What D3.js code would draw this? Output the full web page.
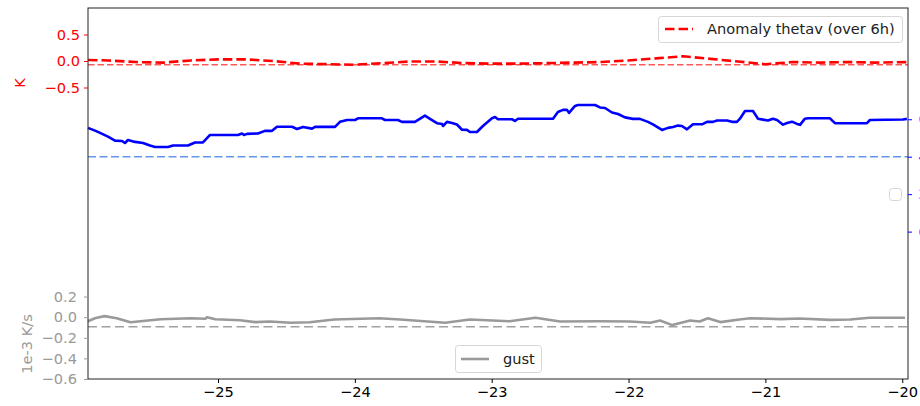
<!DOCTYPE html>
<html>
<head>
<meta charset="utf-8">
<script src="https://cdn.jsdelivr.net/npm/d3@7"></script>
<style>
    body { margin: 0; background: #fff; }
    svg { display: block; font-family: "DejaVu Sans", sans-serif; }
</style>
</head>
<body>
<svg id="chart" width="920" height="406"></svg>
<script>
// anomaly thetav (red, left axis)
var anomT = [-25.95, -25.8, -25.6, -25.4, -25.2, -25.0, -24.8, -24.6, -24.4, -24.2, -24.0, -23.8, -23.6, -23.4, -23.2, -23.0,
    -22.8, -22.6, -22.4, -22.2, -22.0, -21.8, -21.6, -21.4, -21.2, -21.0, -20.8, -20.6, -20.4, -20.2, -19.96];
var anomV = [0.02, 0.01, -0.02, -0.03, 0.01, 0.03, 0.03, 0.0, -0.05, -0.06, -0.07, -0.04, -0.01, -0.01, -0.04, -0.05,
    -0.05, -0.04, -0.03, -0.02, 0.01, 0.05, 0.09, 0.04, -0.01, -0.06, -0.02, -0.03, -0.02, -0.03, -0.02];
var anomRef = -0.07;

// blue series (right axis)
var blueT = [-25.950, -25.899, -25.862, -25.804, -25.753, -25.701, -25.680, -25.658, -25.606, -25.548, -25.497, -25.460,
    -25.365, -25.329, -25.219, -25.168, -25.110, -25.058, -24.854, -24.825, -24.810, -24.788, -24.708, -24.657, -24.605,
    -24.569, -24.459, -24.423, -24.379, -24.313, -24.291, -24.145, -24.109, -24.057, -23.999, -23.977, -23.802, -23.780,
    -23.685, -23.656, -23.561, -23.488, -23.451, -23.400, -23.363, -23.356, -23.327, -23.290, -23.254, -23.217, -23.181,
    -23.159, -23.108, -23.064, -22.998, -22.976, -22.954, -22.852, -22.830, -22.808, -22.552, -22.516, -22.479, -22.450,
    -22.435, -22.391, -22.370, -22.245, -22.209, -22.172, -22.121, -22.077, -22.026, -21.968, -21.917, -21.858, -21.822,
    -21.756, -21.712, -21.675, -21.639, -21.610, -21.573, -21.529, -21.463, -21.427, -21.383, -21.354, -21.281, -21.244,
    -21.208, -21.186, -21.149, -21.091, -21.054, -21.018, -20.981, -20.945, -20.915, -20.871, -20.842, -20.806, -20.769,
    -20.747, -20.711, -20.689, -20.528, -20.492, -20.258, -20.236, -19.995, -19.966];
var blueV = [5.54, 5.39, 5.27, 5.07, 4.86, 4.84, 4.73, 4.89, 4.79, 4.73, 4.60, 4.52,
    4.52, 4.60, 4.60, 4.76, 4.76, 5.16, 5.16, 5.24, 5.16, 5.22, 5.24, 5.38, 5.38,
    5.60, 5.60, 5.48, 5.59, 5.50, 5.59, 5.59, 5.86, 5.96, 5.96, 6.05, 6.05, 5.96,
    5.96, 5.86, 5.86, 6.19, 6.02, 5.79, 5.75, 5.64, 5.86, 5.80, 5.72, 5.44, 5.43,
    5.32, 5.32, 5.64, 6.05, 6.12, 6.00, 6.00, 5.91, 6.03, 6.03, 6.39, 6.50, 6.50,
    6.34, 6.71, 6.76, 6.76, 6.63, 6.60, 6.36, 6.28, 6.10, 6.02, 6.02, 5.86, 5.73,
    5.43, 5.54, 5.59, 5.66, 5.64, 5.46, 5.73, 5.73, 5.86, 5.86, 5.93, 5.93, 5.86,
    5.86, 6.03, 6.44, 6.44, 6.03, 5.98, 5.93, 6.03, 5.96, 5.71, 5.80, 5.87, 5.75,
    5.70, 6.03, 6.05, 6.05, 5.79, 5.79, 5.96, 5.99, 6.02];
var blueRef = 4;

// gust (gray, lower axis)
var gustT = [-25.95, -25.90, -25.83, -25.74, -25.64, -25.53, -25.42, -25.31, -25.20, -25.09, -25.08, -25.02, -24.84,
    -24.73, -24.62, -24.47, -24.33, -24.15, -23.82, -23.67, -23.34, -23.16, -22.87, -22.68, -22.50, -22.21, -21.99,
    -21.84, -21.77, -21.68, -21.55, -21.48, -21.42, -21.33, -21.19, -21.11, -20.89, -20.75, -20.53, -20.38, -20.24, -19.98];
var gustV = [-0.04, -0.01, 0.01, -0.01, -0.05, -0.035, -0.02, -0.015, -0.01, -0.015, 0.0, -0.02, -0.03,
    -0.048, -0.042, -0.054, -0.05, -0.022, -0.01, -0.022, -0.054, -0.022, -0.04, -0.006, -0.042, -0.04, -0.042,
    -0.054, -0.032, -0.077, -0.032, -0.042, -0.01, -0.048, -0.022, -0.01, -0.019, -0.013, -0.026, -0.022, -0.006, -0.006];
var gustRef = -0.093;

var xTicks = [-25, -24, -23, -22, -21, -20];
var redTicks = [0.5, 0.0, -0.5];
var blueTicks = [6, 4, 2, 0];
var grayTicks = [0.2, 0.0, -0.2, -0.4, -0.6];

(function() {
    var svg = d3.select("#chart");
    var pLeft = 88, pRight = 908, pTop = 8, pBottom = 379;
    var fontSize = "14.6px";

    var x = d3.scaleLinear().domain([-25.95, -19.958]).range([pLeft, pRight]);
    var yRed = d3.scaleLinear().domain([-6, 1]).range([pBottom, pTop]);
    var yBlue = d3.scaleLinear().domain([-7.87, 11.94]).range([pBottom, pTop]);
    var yGray = d3.scaleLinear().domain([-0.6, 3.0]).range([pBottom, pTop]);

    var zip = function(a, b) {
        return a.map(function(d, i) { return [d, b[i]]; });
    };

    var drawLine = function(data, y, color, width, dash) {
        var line = d3.line()
            .x(function(d) { return x(d[0]); })
            .y(function(d) { return y(d[1]); });
        svg.append("path")
            .datum(data)
            .attr("d", line)
            .attr("fill", "none")
            .attr("stroke", color)
            .attr("stroke-width", width)
            .attr("stroke-linejoin", "round")
            .attr("stroke-dasharray", dash || null);
    };

    var drawRef = function(v, y, color, width, dash) {
        drawLine([[x.domain()[0], v], [x.domain()[1], v]], y, color, width, dash);
    };

    // lines
    drawRef(anomRef, yRed, "#ff5a5a", 1.4, "6.5,3");
    drawLine(zip(anomT, anomV), yRed, "#ff0000", 2.6, "9.5,4");
    drawRef(blueRef, yBlue, "#6495ed", 1.5, "8,3.5");
    drawLine(zip(blueT, blueV), yBlue, "#0000ff", 2.6);
    drawRef(gustRef, yGray, "#a0a0a0", 1.6, "9,4.5");
    drawLine(zip(gustT, gustV), yGray, "#9a9a9a", 2.6);

    // spines
    svg.append("rect")
        .attr("x", pLeft).attr("y", pTop)
        .attr("width", pRight - pLeft).attr("height", pBottom - pTop)
        .attr("fill", "none").attr("stroke", "#222").attr("stroke-width", 1);

    // axes
    var styleAxis = function(g, color) {
        g.select(".domain").remove();
        g.selectAll("line").attr("stroke", color);
        g.selectAll("text").attr("fill", color).style("font-size", fontSize).style("font-family", "DejaVu Sans");
    };
    var fmt = function(d) { return d3.format(".1f")(d).replace("-", "\u2212"); };

    svg.append("g")
        .attr("transform", "translate(0," + pBottom + ")")
        .call(d3.axisBottom(x).tickValues(xTicks).tickSize(4).tickPadding(4)
            .tickFormat(function(d) { return String(d).replace("-", "\u2212"); }))
        .call(styleAxis, "#000");

    svg.append("g")
        .attr("transform", "translate(" + pLeft + ",0)")
        .call(d3.axisLeft(yRed).tickValues(redTicks).tickSize(4).tickPadding(4).tickFormat(fmt))
        .call(styleAxis, "#ff0000");

    svg.append("g")
        .attr("transform", "translate(" + pLeft + ",0)")
        .call(d3.axisLeft(yGray).tickValues(grayTicks).tickSize(4).tickPadding(7).tickFormat(fmt))
        .call(styleAxis, "#9a9a9a");

    svg.append("g")
        .attr("transform", "translate(" + pRight + ",0)")
        .call(d3.axisRight(yBlue).tickValues(blueTicks).tickSize(4).tickPadding(6.5).tickFormat(d3.format("d")))
        .call(styleAxis, "#0000ff");

    // axis labels
    svg.append("text")
        .attr("transform", "translate(25,83) rotate(-90)")
        .attr("text-anchor", "middle")
        .attr("fill", "#ff0000")
        .style("font-size", fontSize)
        .text("K");
    svg.append("text")
        .attr("transform", "translate(32,344) rotate(-90)")
        .attr("text-anchor", "middle")
        .attr("fill", "#9a9a9a")
        .style("font-size", fontSize)
        .text("1e-3 K/s");

    // legends
    var legendBox = function(x0, y0, w, h) {
        svg.append("rect")
            .attr("x", x0).attr("y", y0).attr("width", w).attr("height", h)
            .attr("rx", 3).attr("ry", 3)
            .attr("fill", "#fff").attr("fill-opacity", 0.8)
            .attr("stroke", "#d6d6d6").attr("stroke-width", 1);
    };
    var legendItem = function(x0, y0, color, dash, label) {
        svg.append("line")
            .attr("x1", x0).attr("x2", x0 + 28).attr("y1", y0).attr("y2", y0)
            .attr("stroke", color).attr("stroke-width", 2.6)
            .attr("stroke-dasharray", dash || null);
        svg.append("text")
            .attr("x", x0 + 42).attr("y", y0 + 5)
            .attr("fill", "#222")
            .style("font-size", fontSize)
            .text(label);
    };

    legendBox(658.5, 16.5, 244, 26);
    legendItem(665, 29, "#ff0000", "9.5,4", "Anomaly thetav (over 6h)");

    legendBox(889.5, 188.5, 12, 12);

    legendBox(455.5, 345.5, 86, 27);
    legendItem(461, 359, "#9a9a9a", null, "gust");
})();
</script>
</body>
</html>
